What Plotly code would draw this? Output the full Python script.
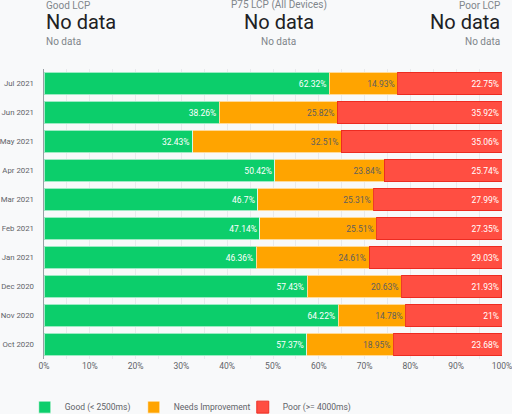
import plotly.graph_objects as go

months = ["Jul 2021", "Jun 2021", "May 2021", "Apr 2021", "Mar 2021", "Feb 2021",
          "Jan 2021", "Dec 2020", "Nov 2020", "Oct 2020"]
good = [62.32, 38.26, 32.43, 50.42, 46.7, 47.14, 46.36, 57.43, 64.22, 57.37]
needs = [14.93, 25.82, 32.51, 23.84, 25.31, 25.51, 24.61, 20.63, 14.78, 18.95]
poor = [22.75, 35.92, 35.06, 25.74, 27.99, 27.35, 29.03, 21.93, 21, 23.68]

series_names = ["Good (< 2500ms)", "Needs Improvement", "Poor (>= 4000ms)"]
colors = ["#0CCE6B", "#FFA400", "#FF4E42"]
text_colors = ["#FFFFFF", "#5F5F5F", "#FFFFFF"]
edge_colors = ["rgba(255,255,255,0.6)", "rgba(255,255,255,0.6)", "rgba(235,40,30,0.9)"]

fig = go.Figure()
for name, vals, c, tc, ec in zip(series_names, [good, needs, poor], colors, text_colors, edge_colors):
    fig.add_trace(go.Bar(
        y=months, x=vals, orientation="h", name=name,
        marker=dict(color=c, line=dict(color=ec, width=1)),
        text=[f"{v}%" for v in vals], textposition="inside", insidetextanchor="end",
        textfont=dict(color=tc, size=8.5, family="Roboto"),
        constraintext="none", hoverinfo="skip",
    ))

W, H = 512, 414
ML, MR, MT, MB = 44, 10, 69, 55

fig.update_layout(
    barmode="stack", bargap=0.23,
    width=W, height=H,
    margin=dict(l=ML, r=MR, t=MT, b=MB, autoexpand=False),
    paper_bgcolor="#F8F9FA", plot_bgcolor="#F8F9FA",
    font=dict(family="Roboto", size=8.5, color="#5F6368"),
    showlegend=True,
    legend=dict(orientation="h", x=-0.042, xanchor="left", y=-0.166, yanchor="middle",
                font=dict(size=8.5, color="#5F6368"), traceorder="normal",
                itemwidth=30, entrywidth=64, entrywidthmode="pixels",
                bgcolor="rgba(0,0,0,0)"),
    xaxis=dict(range=[0, 100], dtick=10, ticksuffix="%", showgrid=True,
               gridcolor="#E8EAED", gridwidth=1, zeroline=False, automargin=False,
               ticklabeloverflow="allow",
               minor=dict(dtick=5, showgrid=True, gridcolor="#E8EAED"),
               tickfont=dict(size=8.5, color="#5F6368"), fixedrange=True),
    yaxis=dict(autorange="reversed", showline=True, linecolor="#9AA0A6", linewidth=1,
               automargin=False, ticks="outside", ticklen=7.5, tickcolor="rgba(0,0,0,0)",
               ticklabeloverflow="allow",
               tickfont=dict(size=7.8, color="#5F6368")),
)

plot_h = H - MT - MB
def py(ypix):
    return (H - MB - ypix) / plot_h

hdr = [(0.0, "left", "Good LCP"), (0.513, "center", "P75 LCP (All Devices)"), (1.0, "right", "Poor LCP")]
for x, anchor, title in hdr:
    fig.add_annotation(x=x, xref="paper", xanchor=anchor, y=py(5.5), yref="paper", yanchor="middle",
                       text=title, showarrow=False, font=dict(size=10, color="#80868B"))
    fig.add_annotation(x=x, xref="paper", xanchor=anchor, y=py(22.5), yref="paper", yanchor="middle",
                       text="No data", showarrow=False, font=dict(size=20, color="#202124"))
    fig.add_annotation(x=x, xref="paper", xanchor=anchor, y=py(42), yref="paper", yanchor="middle",
                       text="No data", showarrow=False, font=dict(size=10, color="#80868B"))

fig.write_html("out.html", config={"displayModeBar": False},
               post_script="document.body.style.margin='0';document.body.style.overflow='hidden';")
